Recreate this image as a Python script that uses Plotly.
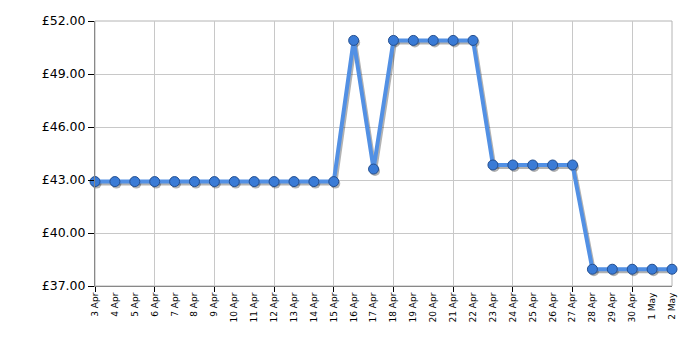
import plotly.graph_objects as go
import pandas as pd

dates = pd.date_range("2024-04-03", "2024-05-02", freq="D")
prices = [42.91, 42.91, 42.91, 42.91, 42.91, 42.91, 42.91, 42.91, 42.91, 42.91, 42.91, 42.91, 42.91,
          50.90, 43.62, 50.90, 50.90, 50.90, 50.90, 50.90,
          43.85, 43.85, 43.85, 43.85, 43.85,
          37.95, 37.95, 37.95, 37.95, 37.95]
y_ticks = [37, 40, 43, 46, 49, 52]
y_labels = ["£%.2f" % v for v in y_ticks]

W, H = 700, 350
ml, mr, mt, mb = 95, 28, 21, 64
pw, ph = W - ml - mr, H - mt - mb
x0, x1 = dates[0], dates[-1]
span = x1 - x0
ymin, ymax = 37, 52
dx = span * (2.0 / pw)
dy = (ymax - ymin) * (2.0 / ph)
DAY = 86400000

fig = go.Figure()
# soft shadow drawn through shifted overlay axes (x2, y2)
fig.add_trace(go.Scatter(
    x=dates, y=prices, mode="lines+markers", xaxis="x2", yaxis="y2",
    line=dict(color="rgba(0,0,0,0.3)", width=4),
    marker=dict(size=10, color="rgba(0,0,0,0.3)"),
    hoverinfo="skip", showlegend=False, cliponaxis=False))
# main series on overlay x3 (same range as x, carries 3-day ticks + grid)
fig.add_trace(go.Scatter(
    x=dates, y=prices, mode="lines+markers", xaxis="x3", yaxis="y",
    line=dict(color="#5290e4", width=4),
    marker=dict(size=10, color="#3a7bd6", line=dict(color="#244f90", width=1)),
    showlegend=False, cliponaxis=False))
# invisible trace on base axes so the labelled axis is active
fig.add_trace(go.Scatter(x=[dates[0]], y=[prices[0]], mode="markers",
                         marker=dict(opacity=0), hoverinfo="skip", showlegend=False))

fig.update_layout(
    width=W, height=H, margin=dict(l=ml, r=mr, t=mt, b=mb),
    paper_bgcolor="white", plot_bgcolor="white",
    font=dict(family="DejaVu Sans", color="black"),
    xaxis=dict(
        type="date", range=[x0, x1], tickmode="linear", tick0=x0, dtick=DAY,
        tickformat="%-d %b", tickangle=-90, tickfont=dict(size=9),
        ticks="", showgrid=False, zeroline=False, ticklabelstandoff=2,
        showline=True, linecolor="#888888", linewidth=1,
    ),
    xaxis2=dict(type="date", range=[x0 - dx * 0.75, x1 - dx * 0.75], overlaying="x",
                visible=False, showgrid=False),
    xaxis3=dict(
        type="date", range=[x0, x1], overlaying="x", tickmode="linear", tick0=x0,
        dtick=3 * DAY, showticklabels=False, ticks="outside", ticklen=5,
        tickcolor="black", tickwidth=1, showgrid=True, gridcolor="#c8c8c8",
        gridwidth=1, zeroline=False, showline=False,
    ),
    yaxis=dict(
        range=[ymin, ymax], tickmode="array", tickvals=y_ticks, ticktext=y_labels,
        tickfont=dict(size=12.5), ticks="outside", ticklen=6, tickcolor="black",
        showgrid=True, gridcolor="#c8c8c8", gridwidth=1, zeroline=False,
        showline=True, linecolor="#888888", linewidth=1,
    ),
    yaxis2=dict(range=[ymin + dy, ymax + dy], overlaying="y", visible=False,
                showgrid=False),
    shapes=[dict(type="rect", xref="paper", yref="paper", x0=0, x1=1, y0=0, y1=1,
                 line=dict(color="#b4b4b4", width=1), layer="below")],
)
fig.write_html("out.html")
